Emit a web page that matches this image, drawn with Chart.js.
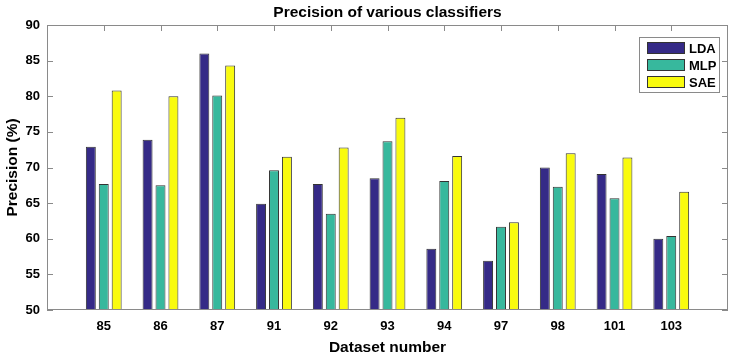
<!DOCTYPE html>
<html>
<head>
<meta charset="utf-8">
<script src="https://cdn.jsdelivr.net/npm/chart.js@4"></script>
<style>
  body { margin: 0; background: #fff; }
</style>
</head>
<body>
<canvas id="precisionChart" width="737" height="357"></canvas>
<script>
// Values
const datasetNumbers = ['85', '86', '87', '91', '92', '93', '94', '97', '98', '101', '103'];
const ldaValues = [72.9, 73.9, 86.0, 64.9, 67.7, 68.5, 58.6, 56.9, 70.0, 69.1, 60.0];
const mlpValues = [67.7, 67.5, 80.1, 69.6, 63.5, 73.7, 68.1, 61.7, 67.3, 65.7, 60.4];
const saeValues = [80.8, 80.0, 84.3, 71.5, 72.8, 77.0, 71.6, 62.3, 72.0, 71.4, 66.6];
const yTicks = [50, 55, 60, 65, 70, 75, 80, 85, 90];

const FONT = '"Liberation Sans", Arial, sans-serif';
const AXIS_COLOR = '#8a8a8a';

// datasets use x = 1..11 on a linear axis so the groups sit like the matlab figure
const toPoints = values => values.map((v, i) => ({ x: i + 1, y: v }));

// centre the title over the plot area, not the whole canvas
const titleOverPlot = {
    id: 'titleOverPlot',
    afterLayout(chart) {
        if (chart.titleBlock) {
            chart.titleBlock.left = chart.chartArea.left;
            chart.titleBlock.right = chart.chartArea.right;
        }
    }
};

// box round the axes, with inward tick marks
const axesBox = {
    id: 'axesBox',
    afterDraw(chart) {
        const { ctx, chartArea: a, scales } = chart;
        ctx.save();
        ctx.strokeStyle = AXIS_COLOR;
        ctx.lineWidth = 1;
        ctx.strokeRect(a.left + 0.5, a.top + 0.5, a.right - a.left - 1, a.bottom - a.top - 1);
        ctx.beginPath();
        yTicks.forEach(t => {
            const y = Math.round(scales.y.getPixelForValue(t)) + 0.5;
            ctx.moveTo(a.left, y); ctx.lineTo(a.left + 6, y);
            ctx.moveTo(a.right, y); ctx.lineTo(a.right - 6, y);
        });
        datasetNumbers.forEach((_, i) => {
            const x = Math.round(scales.x.getPixelForValue(i + 1)) + 0.5;
            ctx.moveTo(x, a.top); ctx.lineTo(x, a.top + 6);
        });
        ctx.stroke();
        ctx.restore();
    }
};

// legend box inside the top right corner
const innerLegend = {
    id: 'innerLegend',
    afterDraw(chart) {
        const { ctx, chartArea: a } = chart;
        const w = 81, h = 56;
        const x0 = a.right - 8 - w, y0 = a.top + 12;
        ctx.save();
        ctx.fillStyle = '#fff';
        ctx.fillRect(x0, y0, w, h);
        ctx.strokeStyle = AXIS_COLOR;
        ctx.strokeRect(x0 + 0.5, y0 + 0.5, w - 1, h - 1);
        ctx.font = 'bold 13px ' + FONT;
        ctx.textBaseline = 'middle';
        chart.data.datasets.forEach((ds, i) => {
            const cy = y0 + 11 + i * 17;
            ctx.fillStyle = ds.backgroundColor;
            ctx.fillRect(x0 + 8, cy - 6, 38, 12);
            ctx.strokeStyle = '#333';
            ctx.strokeRect(x0 + 8.5, cy - 5.5, 37, 11);
            ctx.fillStyle = '#000';
            ctx.fillText(ds.label, x0 + 50, cy + 1);
        });
        ctx.restore();
    }
};

const barStyle = {
    borderColor: '#333',
    borderWidth: 1,
    categoryPercentage: 0.683,
    barPercentage: 0.77
};

new Chart(document.getElementById('precisionChart'), {
    type: 'bar',
    data: {
        datasets: [
            { label: 'LDA', data: toPoints(ldaValues), backgroundColor: '#352a87', ...barStyle },
            { label: 'MLP', data: toPoints(mlpValues), backgroundColor: '#37b89d', ...barStyle },
            { label: 'SAE', data: toPoints(saeValues), backgroundColor: '#f9fb0e', ...barStyle }
        ]
    },
    options: {
        responsive: false,
        animation: false,
        layout: { padding: { top: 0, right: 5, bottom: 0, left: 0 } },
        plugins: {
            legend: { display: false },
            tooltip: { enabled: false },
            title: {
                display: true,
                text: 'Precision of various classifiers',
                color: '#000',
                font: { family: FONT, size: 15.5, weight: 'bold' },
                padding: { top: 3, bottom: 3.4 }
            }
        },
        scales: {
            x: {
                type: 'linear',
                min: 0,
                max: 12,
                offset: false,
                grid: { display: false, drawTicks: false },
                border: { display: false },
                ticks: {
                    stepSize: 1,
                    autoSkip: false,
                    maxRotation: 0,
                    padding: 9,
                    color: '#000',
                    font: { family: FONT, size: 13, weight: 'bold' },
                    callback: v => datasetNumbers[v - 1] ?? ''
                },
                title: {
                    display: true,
                    text: 'Dataset number',
                    color: '#000',
                    font: { family: FONT, size: 15.5, weight: 'bold' },
                    padding: { top: 0, bottom: 0 }
                },
                afterFit: scale => { scale.height = 47; }
            },
            y: {
                min: 50,
                max: 90,
                grid: { display: false, drawTicks: false },
                border: { display: false },
                ticks: {
                    stepSize: 5,
                    padding: 7,
                    color: '#000',
                    font: { family: FONT, size: 13, weight: 'bold' }
                },
                title: {
                    display: true,
                    text: 'Precision (%)',
                    color: '#000',
                    font: { family: FONT, size: 15.5, weight: 'bold' },
                    padding: { top: 3, bottom: 0 }
                },
                afterFit: scale => { scale.width = 47; }
            }
        }
    },
    plugins: [titleOverPlot, axesBox, innerLegend]
});
</script>
</body>
</html>
